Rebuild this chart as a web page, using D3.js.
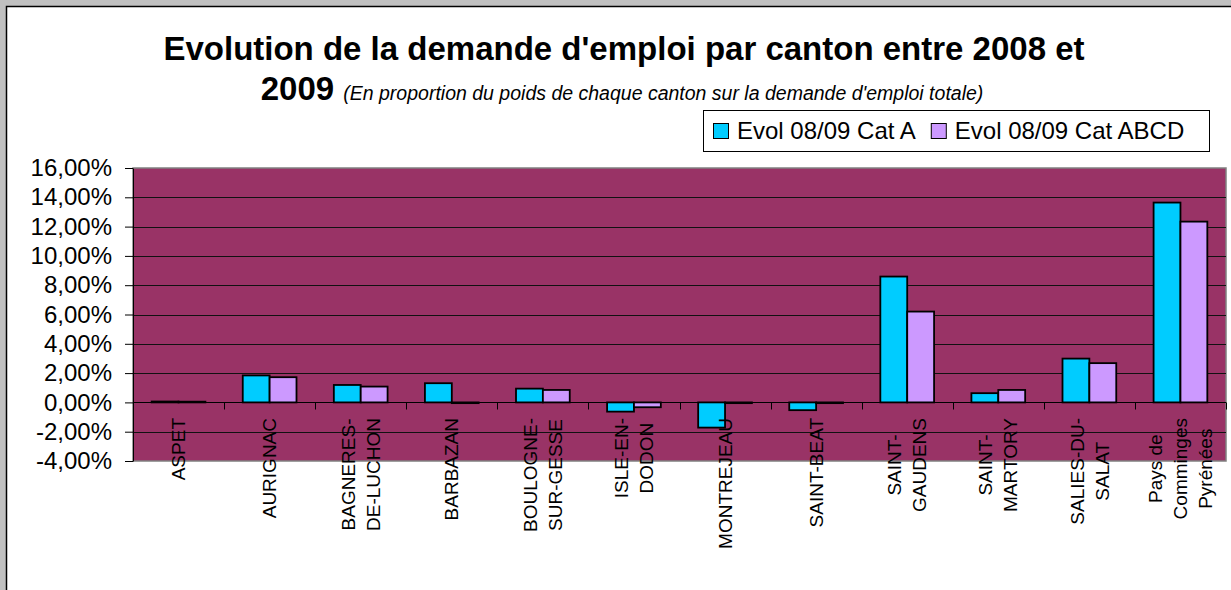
<!DOCTYPE html>
<html>
<head>
<meta charset="utf-8">
<script src="https://cdn.jsdelivr.net/npm/d3@7"></script>
<style>
  body { margin: 0; background: #c0c0c0; }
  svg { display: block; font-family: "Liberation Sans", Arial, sans-serif; }
</style>
</head>
<body>
<div id="chart"></div>
<script>
// categories (line breaks as in the original axis labels)
const cantons = [
  "ASPET", "AURIGNAC", "BAGNERES-\nDE-LUCHON", "BARBAZAN", "BOULOGNE-\nSUR-GESSE",
  "ISLE-EN-\nDODON", "MONTREJEAU", "SAINT-BEAT", "SAINT-\nGAUDENS", "SAINT-\nMARTORY",
  "SALIES-DU-\nSALAT", "Pays de\nComminges\nPyrénées"
];
const seriesNames = ["Evol 08/09 Cat A", "Evol 08/09 Cat ABCD"];
const evolCatA = [0.0006, 0.0184, 0.0119, 0.0131, 0.0094, -0.0063, -0.0172, -0.0053, 0.0859, 0.0063, 0.0299, 0.1364];
const evolCatABCD = [0.0005, 0.0172, 0.0108, -0.0005, 0.0085, -0.0033, -0.0005, -0.0005, 0.0620, 0.0085, 0.0268, 0.1234];
const yTicks = [-0.04, -0.02, 0, 0.02, 0.04, 0.06, 0.08, 0.10, 0.12, 0.14, 0.16];

const colors = ["#00ccff", "#cc99ff"];

const width = 1231, height = 590;
const margin = { top: 168, bottom: 461, left: 133, right: 1226 };

const svg = d3.select("#chart").append("svg")
    .attr("width", width)
    .attr("height", height);

// chart frame
svg.append("rect")
    .attr("x", 6.5).attr("y", 6.5)
    .attr("width", width + 20).attr("height", height + 20)
    .attr("fill", "#fff")
    .attr("stroke", "#000")
    .attr("stroke-width", 1.5);

// title
svg.append("text")
    .attr("x", 624).attr("y", 60)
    .attr("text-anchor", "middle")
    .attr("font-size", 33).attr("font-weight", "bold")
    .text("Evolution de la demande d'emploi par canton entre 2008 et");

const sub = svg.append("text")
    .attr("x", 622).attr("y", 100)
    .attr("text-anchor", "middle");
sub.append("tspan").attr("font-size", 33).attr("font-weight", "bold").text("2009 ");
sub.append("tspan").attr("font-size", 19.5).attr("font-style", "italic")
    .text("(En proportion du poids de chaque canton sur la demande d'emploi totale)");

// scales
const x = d3.scaleBand()
    .domain(cantons)
    .range([margin.left, margin.right])
    .padding(0);

const groupW = x.bandwidth() * 0.59;
const x1 = d3.scaleBand()
    .domain([0, 1])
    .range([(x.bandwidth() - groupW) / 2, (x.bandwidth() + groupW) / 2])
    .padding(0);

const y = d3.scaleLinear()
    .domain([-0.04, 0.16])
    .range([margin.bottom, margin.top]);

const fr = d3.formatLocale({ decimal: ",", thousands: " ", grouping: [3], currency: ["", "€"], minus: "-" });
const pct = fr.format(".2%");

// plot area
svg.append("rect")
    .attr("x", margin.left).attr("y", margin.top)
    .attr("width", margin.right - margin.left)
    .attr("height", margin.bottom - margin.top)
    .attr("fill", "#993366")
    .attr("stroke", "#808080")
    .attr("stroke-width", 1.5);

// gridlines
svg.append("g")
    .selectAll("line")
    .data(yTicks.filter(d => d > -0.04 && d < 0.16))
    .join("line")
    .attr("x1", margin.left).attr("x2", margin.right)
    .attr("y1", d => Math.round(y(d)) + 0.5)
    .attr("y2", d => Math.round(y(d)) + 0.5)
    .attr("stroke", "#111")
    .attr("stroke-width", 1);

// y axis
const yAxis = d3.axisLeft(y)
    .tickValues(yTicks)
    .tickFormat(pct)
    .tickSize(8)
    .tickPadding(13)
    .tickSizeOuter(0);

const yg = svg.append("g")
    .attr("transform", `translate(${margin.left},0)`)
    .call(yAxis);
yg.selectAll("text").attr("font-size", 24).attr("fill", "#000")
    .attr("font-family", "Liberation Sans, Arial, sans-serif");
yg.selectAll("line").attr("stroke", "#000");
yg.select(".domain").attr("stroke", "#000");

// bars
const rows = cantons.map((c, i) => ({ canton: c, values: [evolCatA[i], evolCatABCD[i]] }));

svg.append("g")
    .selectAll("g")
    .data(rows)
    .join("g")
    .attr("transform", d => `translate(${x(d.canton)},0)`)
    .selectAll("rect")
    .data(d => d.values.map((v, k) => ({ k, v })))
    .join("rect")
    .attr("x", d => x1(d.k))
    .attr("width", x1.bandwidth())
    .attr("y", d => y(Math.max(0, d.v)))
    .attr("height", d => Math.abs(y(d.v) - y(0)))
    .attr("fill", d => colors[d.k])
    .attr("stroke", "#000")
    .attr("stroke-width", 1.8);

// category axis at zero
const y0 = Math.round(y(0)) + 0.5;
svg.append("line")
    .attr("x1", margin.left).attr("x2", margin.right)
    .attr("y1", y0).attr("y2", y0)
    .attr("stroke", "#000");

const bounds = cantons.map(c => x(c)).concat([margin.right]);
svg.append("g")
    .selectAll("line")
    .data(bounds)
    .join("line")
    .attr("x1", d => Math.round(d) + 0.5).attr("x2", d => Math.round(d) + 0.5)
    .attr("y1", y0).attr("y2", y0 + 7)
    .attr("stroke", "#000");

// category labels, rotated
const labelTop = 418;
const lineGap = 25;
cantons.forEach(c => {
    const lines = c.split("\n");
    const g = svg.append("g");
    const cx = x(c) + x.bandwidth() / 2;
    const texts = lines.map((t, j) => g.append("text")
        .attr("font-size", 19)
        .attr("text-anchor", "middle")
        .attr("dy", "0.35em")
        .text(t));
    const maxLen = d3.max(texts, t => t.node().getComputedTextLength());
    texts.forEach((t, j) => {
        const lx = cx + (j - (lines.length - 1) / 2) * lineGap;
        t.attr("transform", `translate(${lx},${labelTop + maxLen / 2}) rotate(-90)`);
    });
});

// legend
const legend = svg.append("g");
legend.append("rect")
    .attr("x", 703.5).attr("y", 110.5)
    .attr("width", 506).attr("height", 41)
    .attr("fill", "#fff")
    .attr("stroke", "#000");

let lx = 713;
seriesNames.forEach((name, k) => {
    legend.append("rect")
        .attr("x", lx + 0.5).attr("y", 123.5)
        .attr("width", 15).attr("height", 15)
        .attr("fill", colors[k])
        .attr("stroke", "#000");
    const t = legend.append("text")
        .attr("x", lx + 24).attr("y", 139)
        .attr("font-size", 24)
        .text(name);
    lx += 24 + t.node().getComputedTextLength() + 15;
});
</script>
</body>
</html>
